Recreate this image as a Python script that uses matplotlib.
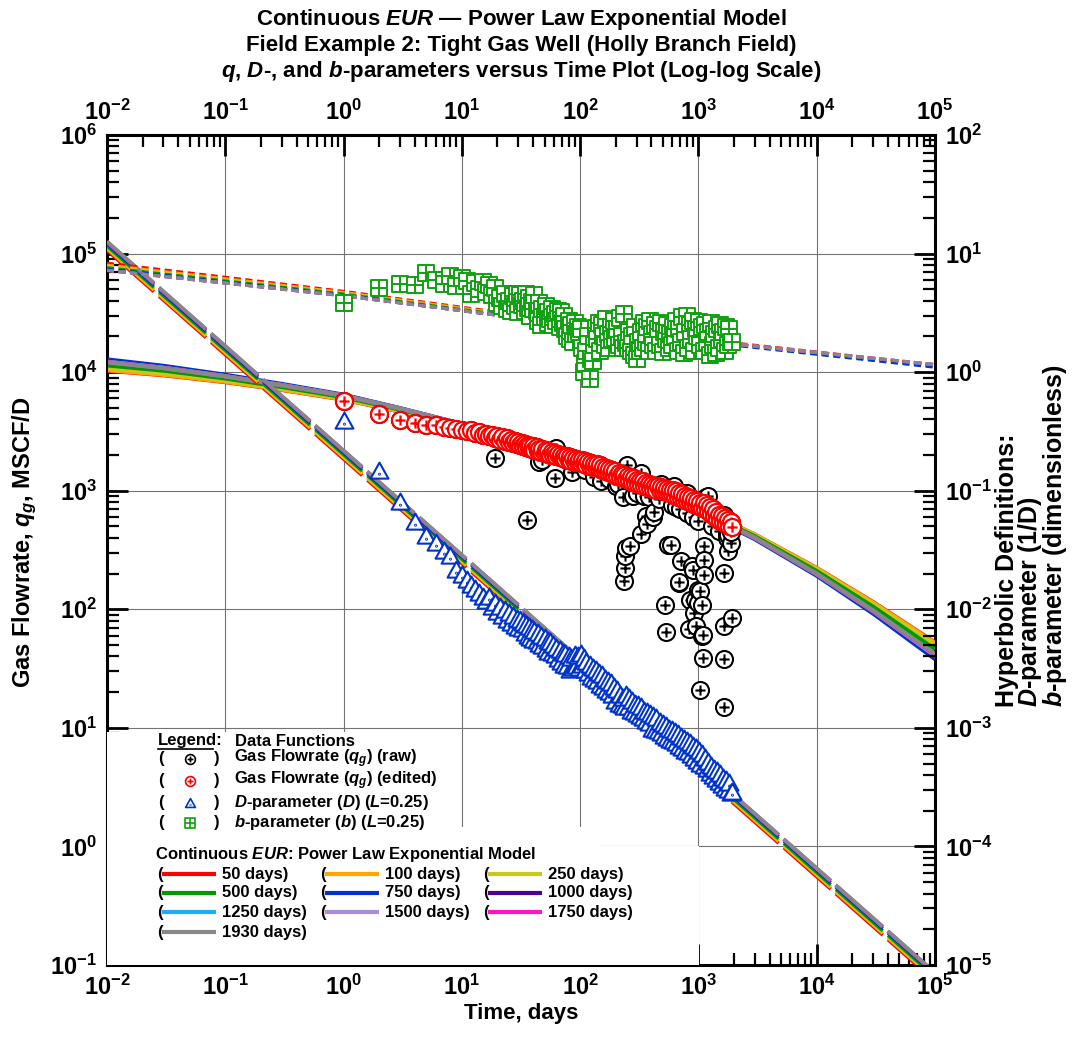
import matplotlib
matplotlib.use("Agg")
import matplotlib.pyplot as plt
from matplotlib.path import Path
from matplotlib.patches import Rectangle
from matplotlib.ticker import LogLocator, NullFormatter
import numpy as np

plt.rcParams['font.family'] = ['Liberation Sans', 'DejaVu Sans']
plt.rcParams['font.weight'] = 'bold'
plt.rcParams['mathtext.fontset'] = 'custom'
plt.rcParams['mathtext.rm'] = 'Liberation Sans:bold'
plt.rcParams['mathtext.it'] = 'Liberation Sans:bold:italic'
plt.rcParams['mathtext.bf'] = 'Liberation Sans:bold'

# ---- model curves (continuous EUR, power law exponential) ----
MODEL_LABELS = ['50 days', '100 days', '250 days', '500 days', '750 days',
                '1000 days', '1250 days', '1500 days', '1750 days', '1930 days']
MODEL_COLORS = ['#ff0000', '#ffa500', '#c8c81e', '#009900', '#0033cc',
                '#4b0096', '#1eaaff', '#aa8cdc', '#ff14c8', '#888888']

T_MODEL = [0.01, 0.03, 0.1, 0.3, 1, 3, 10, 30, 100, 300, 1000, 3000, 10000, 30000, 100000]
Q_50   = [10300, 9420, 8240, 7080, 5870, 4650, 3530, 2512, 1762, 1176, 717, 427, 223, 115, 52.5]
Q_100  = [10400, 9500, 8300, 7120, 5900, 4670, 3540, 2515, 1762, 1175, 716, 426, 222, 114, 52]
Q_250  = [10800, 9800, 8500, 7250, 5980, 4720, 3560, 2520, 1760, 1170, 712, 422, 218, 111, 50]
Q_500  = [11400, 10300, 8850, 7500, 6150, 4830, 3600, 2530, 1755, 1160, 700, 412, 210, 105, 46]
Q_750  = [12800, 11300, 9500, 7950, 6450, 4970, 3660, 2540, 1740, 1140, 675, 390, 192, 92, 38]
Q_1000 = [12300, 10950, 9290, 7810, 6370, 4940, 3650, 2540, 1746, 1145, 681, 396, 196, 95, 40]
Q_1250 = [12250, 10900, 9260, 7790, 6360, 4935, 3648, 2540, 1747, 1147, 683, 398, 197, 96, 40.5]
Q_1500 = [12200, 10870, 9240, 7780, 6350, 4930, 3645, 2540, 1748, 1148, 684, 399, 198, 96.5, 41]
Q_1750 = [12150, 10830, 9220, 7760, 6340, 4925, 3642, 2540, 1749, 1149, 686, 400, 199, 97, 41.5]
Q_1930 = [12100, 10800, 9200, 7750, 6330, 4920, 3640, 2540, 1750, 1150, 688, 402, 200, 98, 42]

T_D_MODEL = [0.01, 1, 100000]
D_50   = [10.65, 0.185, 7.3e-6]
D_100  = [11.0, 0.191, 7.55e-6]
D_250  = [11.25, 0.195, 7.7e-6]
D_500  = [11.6, 0.202, 7.95e-6]
D_750  = [12.1, 0.21, 8.3e-6]
D_1000 = [12.5, 0.216, 8.5e-6]
D_1250 = [12.5, 0.217, 8.55e-6]
D_1500 = [12.55, 0.217, 8.55e-6]
D_1750 = [12.55, 0.218, 8.6e-6]
D_1930 = [12.7, 0.219, 8.65e-6]

T_B_MODEL = [0.01, 1, 1000, 100000]
B_50   = [8.3, 4.8, 1.9, 1.15]
B_100  = [8.0, 4.7, 1.88, 1.13]
B_250  = [7.8, 4.6, 1.86, 1.12]
B_500  = [7.6, 4.55, 1.85, 1.13]
B_750  = [7.4, 4.45, 1.82, 1.10]
B_1000 = [7.25, 4.42, 1.85, 1.15]
B_1250 = [7.25, 4.41, 1.85, 1.15]
B_1500 = [7.22, 4.41, 1.85, 1.16]
B_1750 = [7.21, 4.40, 1.85, 1.16]
B_1930 = [7.2, 4.4, 1.85, 1.16]

# ---- production data (edited series) ----
T_DATA = [1, 2, 3, 4, 5, 6, 7, 8, 9, 10,
          11, 12, 13, 14, 15, 16, 17, 18, 19, 20,
          21, 22, 23, 24, 25, 26, 27, 28, 29, 30,
          31, 32, 33, 34, 35, 36, 37, 38, 39, 40,
          41, 43, 44, 45, 47, 48, 50, 51, 53, 54,
          56, 58, 59, 61, 63, 65, 67, 69, 71, 73,
          75, 77, 80, 82, 84, 87, 90, 92, 95, 98,
          101, 104, 107, 110, 113, 117, 120, 124, 128, 131,
          135, 139, 144, 148, 152, 157, 162, 166, 171, 176,
          182, 187, 193, 199, 205, 211, 217, 224, 230, 237,
          244, 252, 259, 267, 275, 283, 292, 301, 310, 319,
          329, 338, 349, 359, 370, 381, 392, 404, 416, 429,
          442, 455, 469, 483, 497, 512, 528, 543, 560, 577,
          594, 612, 630, 649, 668, 688, 709, 730, 752, 775,
          798, 822, 847, 872, 898, 925, 953, 981, 1011, 1041,
          1072, 1104, 1138, 1172, 1207, 1243, 1280, 1319, 1358, 1399,
          1441, 1484, 1529, 1575, 1622, 1671, 1721, 1773, 1826, 1881,
          1930]
Q_EDITED = [5680, 4400, 3920, 3720, 3600, 3560, 3470, 3400, 3330, 3250,
            3180, 3240, 3050, 3120, 2960, 3020, 2870, 2950, 2800, 2880,
            2700, 2830, 2640, 2760, 2590, 2700, 2520, 2640, 2480, 2560,
            2420, 2540, 2380, 2470, 2330, 2430, 2290, 2390, 2250, 2360,
            2200, 2320, 2180, 2260, 2120, 2230, 2090, 2200, 2040, 2150,
            2010, 2130, 2000, 2070, 1950, 2050, 1910, 2010, 1870, 1980,
            1850, 1960, 1830, 1910, 1790, 1880, 1760, 1850, 1730, 1830,
            1720, 1830, 1700, 1780, 1660, 1750, 1620, 1720, 1590, 1680,
            1570, 1680, 1540, 1640, 1500, 1600, 1460, 1560, 1430, 1520,
            1400, 1500, 1370, 1460, 1340, 1420, 1300, 1390, 1270, 1350,
            1250, 1330, 1220, 1300, 1190, 1270, 1160, 1240, 1130, 1210,
            1120, 1200, 1100, 1170, 1070, 1140, 1050, 1120, 1030, 1100,
            1020, 1100, 1010, 1080, 990, 1060, 970, 1040, 950, 1020,
            930, 1010, 910, 990, 890, 960, 860, 930, 840, 900,
            820, 890, 800, 860, 780, 840, 760, 820, 740, 790,
            720, 790, 700, 760, 670, 730, 640, 700, 610, 660,
            580, 630, 560, 610, 540, 590, 520, 570, 500, 540,
            495]
D_DATA = [0.39, 0.148, 0.081, 0.0546, 0.0417, 0.036, 0.031, 0.028, 0.0213, 0.0195,
          0.0176, 0.0160, 0.0148, 0.0137, 0.0127, 0.0118, 0.0126, 0.0105, 0.0112, 0.0094,
          0.0105, 0.0088, 0.0099, 0.0081, 0.0093, 0.0076, 0.0088, 0.0072, 0.0083, 0.0069,
          0.0082, 0.0068, 0.0077, 0.0063, 0.0074, 0.0060, 0.0071, 0.0057, 0.0068, 0.0055,
          0.0066, 0.0054, 0.0063, 0.0051, 0.0060, 0.0049, 0.0057, 0.0046, 0.0054, 0.0044,
          0.0053, 0.0043, 0.0050, 0.0041, 0.0047, 0.0038, 0.0045, 0.0036, 0.0043, 0.0034,
          0.0042, 0.0033, 0.0040, 0.0031, 0.0039, 0.0032, 0.0041, 0.0033, 0.0040, 0.0032,
          0.0042, 0.0034, 0.0039, 0.0031, 0.0036, 0.0029, 0.0034, 0.0027, 0.0032, 0.0026,
          0.0031, 0.0025, 0.0029, 0.0023, 0.0028, 0.0022, 0.0026, 0.0021, 0.0025, 0.0020,
          0.0024, 0.0019, 0.0022, 0.0017, 0.0021, 0.0016, 0.0019, 0.00155, 0.0018, 0.0015,
          0.0019, 0.0015, 0.0018, 0.0014, 0.0017, 0.00135, 0.0016, 0.0013, 0.00155, 0.00125,
          0.0015, 0.0012, 0.0014, 0.00115, 0.00135, 0.0011, 0.0013, 0.00098, 0.00125, 0.00095,
          0.0012, 0.00094, 0.00112, 0.0009, 0.00108, 0.00086, 0.00103, 0.00082, 0.00098, 0.00079,
          0.00096, 0.00077, 0.00092, 0.00074, 0.00088, 0.0007, 0.00084, 0.00067, 0.0008, 0.00064,
          0.00078, 0.00062, 0.00074, 0.00059, 0.0007, 0.00056, 0.00067, 0.00053, 0.00064, 0.0005,
          0.0006, 0.00048, 0.00056, 0.00045, 0.00052, 0.00042, 0.00048, 0.00039, 0.00045, 0.00037,
          0.00043, 0.00035, 0.00041, 0.00033, 0.00038, 0.00031, 0.00036, 0.0003, 0.00034, 0.00028,
          0.00029]
B_DATA = [3.85, 5.1, 5.5, 5.4, 6.8, 6.0, 5.5, 6.5, 5.3, 6.2,
          5.9, 4.6, 5.6, 5.0, 5.8, 4.7, 5.4, 4.5, 5.1, 3.8,
          4.2, 3.6, 4.6, 3.4, 4.0, 3.3, 4.4, 3.6, 4.6, 3.2,
          4.5, 3.7, 4.0, 3.3, 4.6, 3.5, 4.2, 3.0, 3.9, 3.4,
          4.5, 3.3, 2.7, 3.8, 2.5, 3.4, 2.9, 3.6, 2.6, 3.2,
          2.8, 3.4, 2.5, 3.1, 2.7, 3.3, 2.4, 3.2, 2.6, 3.0,
          2.3, 2.0, 2.7, 1.9, 2.5, 1.8, 2.6, 2.1, 2.4, 2.2,
          2.3, 1.6, 1.0, 1.2, 1.5, 2.0, 0.88, 1.3, 1.25, 1.7,
          2.35, 1.9, 2.6, 1.5, 2.5, 2.0, 1.7, 2.8, 2.1, 1.6,
          2.4, 1.9, 2.7, 1.95, 2.3, 1.7, 2.85, 2.0, 1.6, 3.07,
          1.75, 1.6, 2.2, 1.5, 2.0, 1.4, 2.4, 1.29, 1.8, 1.5,
          2.2, 1.6, 2.6, 1.8, 2.4, 1.5, 2.7, 2.1, 1.7, 2.5,
          1.5, 2.3, 1.7, 2.6, 1.48, 2.2, 1.9, 2.5, 1.6, 2.1,
          1.7, 2.4, 2.0, 2.7, 1.5, 2.3, 1.8, 2.9, 1.45, 2.2,
          2.95, 1.6, 2.5, 1.9, 2.7, 1.5, 2.3, 2.0, 2.67, 1.7,
          2.4, 1.5, 2.5, 1.8, 2.2, 1.4, 2.6, 1.7, 2.1, 1.45,
          2.3, 1.6, 2.5, 1.9, 2.2, 1.5, 2.4, 1.7, 2.3, 1.8,
          1.8]

# raw points that were removed in the edited series
T_REMOVED = [19, 35.5, 45, 48, 61, 63, 85, 110, 130, 150, 175, 200, 210, 230, 236, 238,
             241, 245, 250, 265, 280, 300, 330, 330, 350, 360, 370, 380, 410, 420, 460,
             480, 525, 528, 550, 590, 600, 620, 650, 680, 690, 700, 718, 720, 800, 800,
             840, 850, 880, 900, 900, 920, 930, 950, 1000, 1000, 1000, 1040, 1040,
             1070, 1080, 1100, 1100, 1120, 1120, 1120, 1150, 1200, 1300, 1500, 1630,
             1630, 1650, 1630, 1630, 1740, 1750, 1790, 1790, 1870, 1880, 1930]
Q_REMOVED = [1900, 570, 1750, 1800, 1290, 2300, 1450, 1500, 1300, 1210, 1250, 1100, 1150,
             880, 172, 222, 280, 330, 1650, 340, 900, 960, 1400, 430, 900, 614, 520, 880,
             600, 660, 850, 1150, 108, 64, 348, 348, 760, 1100, 730, 166, 170, 700, 255,
             960, 650, 960, 68, 120, 230, 214, 600, 93, 120, 72, 145, 112, 560, 142, 21,
             108, 60, 61, 38.5, 340, 260, 194, 880, 900, 500, 460, 630, 202, 72, 38, 15,
             430, 400, 420, 310, 360, 450, 84]

DECADES_X = [1e-2, 1e-1, 1e0, 1e1, 1e2, 1e3, 1e4, 1e5]
DECADES_Q = [1e-1, 1e0, 1e1, 1e2, 1e3, 1e4, 1e5, 1e6]
DECADES_DB = [1e-5, 1e-4, 1e-3, 1e-2, 1e-1, 1e0, 1e1, 1e2]


def marker_circle_plus():
    plus = Path([(-0.6, 0), (0.6, 0), (0, -0.6), (0, 0.6)],
                [Path.MOVETO, Path.LINETO, Path.MOVETO, Path.LINETO])
    return Path.make_compound_path(Path.unit_circle(), plus)


def marker_square_cross():
    sq = Path([(-1, -1), (1, -1), (1, 1), (-1, 1), (-1, -1)],
              [Path.MOVETO, Path.LINETO, Path.LINETO, Path.LINETO, Path.CLOSEPOLY])
    cross = Path([(-1, 0), (1, 0), (0, -1), (0, 1)],
                 [Path.MOVETO, Path.LINETO, Path.MOVETO, Path.LINETO])
    return Path.make_compound_path(sq, cross)


def marker_triangle_dot():
    tri = Path([(-1, -0.8), (1, -0.8), (0, 1), (-1, -0.8)],
               [Path.MOVETO, Path.LINETO, Path.LINETO, Path.CLOSEPOLY])
    dot = Path.circle((0, -0.3), 0.05)
    return Path.make_compound_path(tri, dot)


M_CIRC = marker_circle_plus()
M_SQ = marker_square_cross()
M_TRI = marker_triangle_dot()

fig = plt.figure(figsize=(10.78, 10.51), dpi=100)
ax = fig.add_axes([107 / 1078, 1 - 965 / 1051, 828 / 1078, 830 / 1051])
ax2 = ax.twinx()

for a in (ax, ax2):
    a.set_xscale('log')
    a.set_yscale('log')

Q_MODELS = [Q_50, Q_100, Q_250, Q_500, Q_750, Q_1000, Q_1250, Q_1500, Q_1750, Q_1930]
D_MODELS = [D_50, D_100, D_250, D_500, D_750, D_1000, D_1250, D_1500, D_1750, D_1930]
B_MODELS = [B_50, B_100, B_250, B_500, B_750, B_1000, B_1250, B_1500, B_1750, B_1930]

for q, c in zip(Q_MODELS, MODEL_COLORS):
    ax.plot(T_MODEL, q, color=c, lw=3.0, solid_capstyle='butt', zorder=3)

# raw data (edited + removed), then edited on top
t_raw = T_DATA + T_REMOVED
q_raw = Q_EDITED + Q_REMOVED
ax.scatter(t_raw, q_raw, marker=M_CIRC, s=150, facecolors='white',
           edgecolors='black', linewidths=1.5, zorder=4)
ax.scatter(T_DATA, Q_EDITED, marker=M_CIRC, s=150, facecolors='white',
           edgecolors='#ff0000', linewidths=1.6, zorder=5)

for d, c in zip(D_MODELS, MODEL_COLORS):
    ax2.plot(T_D_MODEL, d, color=c, lw=2.5, ls=(0, (18, 2)), zorder=3)
for b, c in zip(B_MODELS, MODEL_COLORS):
    ax2.plot(T_B_MODEL, b, color=c, lw=2.2, ls=(0, (2.3, 1.5)), zorder=3)

ax2.scatter(T_DATA, D_DATA, marker=M_TRI, s=165, facecolors='white',
            edgecolors='#0033cc', linewidths=1.5, zorder=4)
ax2.scatter(T_DATA, B_DATA, marker=M_SQ, s=135, facecolors='white',
            edgecolors='#10a010', linewidths=1.4, zorder=4)

# ---- axes styling ----
ax.grid(True, which='major', color='0.45', lw=0.8)
for s in ax.spines.values():
    s.set_linewidth(2.2)
ax.set_xticks(DECADES_X)
ax.set_yticks(DECADES_Q)
ax2.set_yticks(DECADES_DB)
ax.set_xlim(1e-2, 1e5)
ax.set_ylim(1e-1, 1e6)
ax2.set_ylim(1e-5, 1e2)
ax.xaxis.set_minor_locator(LogLocator(base=10, subs=np.arange(2, 10), numticks=100))
ax.xaxis.set_minor_formatter(NullFormatter())
for a in (ax, ax2):
    a.yaxis.set_minor_locator(LogLocator(base=10, subs=np.arange(2, 10), numticks=100))
    a.yaxis.set_minor_formatter(NullFormatter())

ax.tick_params(which='both', direction='in', top=True, labeltop=True,
               right=False, labelsize=17, pad=7)
ax.tick_params(which='major', length=15, width=2)
ax.tick_params(which='minor', length=8.5, width=1.6)
ax2.tick_params(which='both', direction='in', labelsize=17, pad=7)
ax2.tick_params(which='major', length=15, width=2)
ax2.tick_params(which='minor', length=8.5, width=1.6)

fig.text(521 / 1078, 1 - 19 / 1051, 'Continuous $EUR$ \u2014 Power Law Exponential Model',
         ha='center', va='center', fontsize=16)
fig.text(521 / 1078, 1 - 45 / 1051, 'Field Example 2: Tight Gas Well (Holly Branch Field)',
         ha='center', va='center', fontsize=16)
fig.text(521 / 1078, 1 - 71 / 1051,
         '$q$, $D$-, and $b$-parameters versus Time Plot (Log-log Scale)',
         ha='center', va='center', fontsize=16)
fig.text(521 / 1078, 1 - 1014 / 1051, 'Time, days', ha='center', va='center', fontsize=16)
fig.text(25 / 1078, 1 - 542 / 1051, 'Gas Flowrate, $q_g$, MSCF/D', rotation=90,
         ha='center', va='center', fontsize=17)
fig.text(1032 / 1078, 1 - 536 / 1051,
         'Hyperbolic Definitions:\n$D$-parameter (1/D)\n$b$-parameter (dimensionless)',
         rotation=90, ha='center', va='center', multialignment='left',
         fontsize=18, linespacing=0.86)

# ---- legend (drawn by hand on top) ----
def ax_x(px):
    return (px - 107) / 828


def ax_y(py):
    return (965 - py) / 830


tr = ax2.transAxes
for (x0, x1, y0, y1) in [(107, 445, 827, 732), (107, 600, 846, 827), (107, 699, 965, 846)]:
    ax2.add_patch(Rectangle((ax_x(x0), ax_y(y0)), ax_x(x1) - ax_x(x0), ax_y(y1) - ax_y(y0),
                            transform=tr, facecolor='white', edgecolor='none', zorder=20))

fs = 12
ax2.text(ax_x(158), ax_y(741), 'Legend:', transform=tr, fontsize=fs, va='center', zorder=21)
ax2.plot([ax_x(158), ax_x(213)], [ax_y(749), ax_y(749)], color='black', lw=1.2,
         transform=tr, zorder=21)
ax2.text(ax_x(235), ax_y(741), 'Data Functions', transform=tr, fontsize=fs, va='center', zorder=21)

data_rows = [
    (759, M_CIRC, 'black', 'Gas Flowrate ($q_g$) (raw)'),
    (781, M_CIRC, '#ff0000', 'Gas Flowrate ($q_g$) (edited)'),
    (803, M_TRI, '#0033cc', '$D$-parameter ($D$) ($L$=0.25)'),
    (823, M_SQ, '#10a010', '$b$-parameter ($b$) ($L$=0.25)'),
]
for py, m, c, lab in data_rows:
    y = ax_y(py)
    ax2.text(ax_x(158), y, '(', transform=tr, fontsize=fs, va='center', zorder=21)
    ax2.scatter([ax_x(190)], [y], marker=m, s=50, facecolors='white', edgecolors=c,
                linewidths=1.2, transform=tr, zorder=22)
    ax2.text(ax_x(214), y, ')', transform=tr, fontsize=fs, va='center', zorder=21)
    ax2.text(ax_x(234), y, lab, transform=tr, fontsize=fs, va='center', zorder=21)

ax2.text(ax_x(155), ax_y(855), 'Continuous $EUR$: Power Law Exponential Model',
         transform=tr, fontsize=fs, va='center', zorder=21)
row_y = [874, 893, 912, 932]
col_x = [157, 320, 483]
for i, (lab, c) in enumerate(zip(MODEL_LABELS, MODEL_COLORS)):
    y = ax_y(row_y[i // 3])
    x0 = col_x[i % 3]
    ax2.text(ax_x(x0), y, '(', transform=tr, fontsize=fs, va='center', zorder=21)
    ax2.plot([ax_x(x0 + 5), ax_x(x0 + 59)], [y, y], color=c, lw=3, transform=tr,
             solid_capstyle='butt', zorder=21)
    ax2.text(ax_x(x0 + 65), y, lab + ')', transform=tr, fontsize=fs, va='center', zorder=21)

fig.savefig('out.png', dpi=100)
